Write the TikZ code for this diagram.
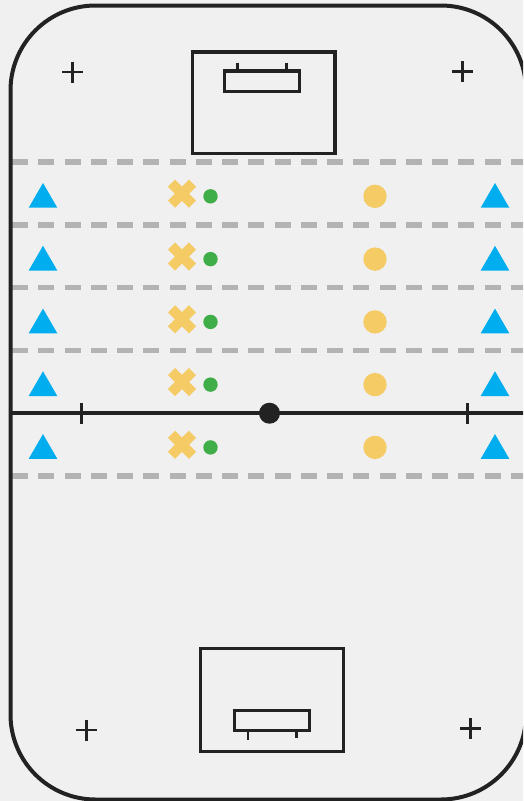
\documentclass[tikz,border=0pt]{standalone}
\definecolor{bgc}{HTML}{F0F0F0}
\definecolor{ink}{HTML}{222222}
\definecolor{dashc}{HTML}{B3B3B3}
\definecolor{blueT}{HTML}{00AEEF}
\definecolor{yell}{HTML}{F5CB66}
\definecolor{greenD}{HTML}{3FAE49}
\tikzset{
 x=1pt,y=-1pt,
 rink/.style={draw=ink,line width=4pt},
 boxline/.style={draw=ink,line width=3.2pt},
 lowbox/.style={draw=ink,line width=3pt},
 thin tick/.style={draw=ink,line width=2.8pt},
 lane/.style={draw=dashc,line width=5.5pt,dash pattern=on 16pt off 10.25pt},
 centre/.style={draw=ink,line width=4.5pt},
 tri/.style={fill=blueT},
 crossmark/.style={draw=yell,line width=10pt},
}
\begin{document}
\begin{tikzpicture}
\useasboundingbox (0,0) rectangle (523,801);
\clip (0,0) rectangle (523,801);
\fill[bgc] (0,0) rectangle (523,801);
% lanes
\foreach \y in {162,225,287.7,350.6,476}
  \draw[lane] (12,\y) -- (530,\y);
% centre line
\draw[centre] (10.5,413.2) -- (530,413.2);
\draw[thin tick] (81.5,403) -- (81.5,423.5);
\draw[thin tick] (467.5,403) -- (467.5,423.5);
\fill[ink] (269.5,413.2) circle (10.5);
% rink
\draw[rink] (526,90.5) arc[start angle=0,end angle=90,x radius=85,y radius=-85]
  -- (95.5,5.5) arc[start angle=90,end angle=180,x radius=85,y radius=-85]
  -- (10.5,714.5) arc[start angle=180,end angle=270,x radius=85,y radius=-85]
  -- (441,799.5) arc[start angle=270,end angle=360,x radius=85,y radius=-85] -- cycle;
% goals
\draw[boxline] (192.5,52) rectangle (335,153.5);
\draw[boxline] (224.5,71) rectangle (299.5,91.5);
\draw[thin tick] (237.5,62.5) -- (237.5,70);
\draw[thin tick] (286.5,62.5) -- (286.5,70);
\draw[lowbox] (200,648.5) rectangle (343,751);
\draw[lowbox] (234,710.5) rectangle (309,730.5);
\draw[thin tick] (248,732) -- (248,739.5);
\draw[thin tick] (296.5,732) -- (296.5,738);
% plus marks
\foreach \px/\py in {72.5/72,462.3/71.5,86.5/730,470.7/728.5}{
  \draw[thin tick] (\px-10.5,\py) -- (\px+10.5,\py);
  \draw[thin tick] (\px,\py-10.5) -- (\px,\py+10.5);
}
% rows
\foreach \r in {196.3,259.1,321.9,384.6,447.4}{
  \fill[tri] (43,\r-13.3) -- (57.3,\r+11.4) -- (28.7,\r+11.4) -- cycle;
  \fill[tri] (495,\r-13.3) -- (509.3,\r+11.4) -- (480.7,\r+11.4) -- cycle;
  \draw[crossmark] (171.5,\r-13.1) -- (192.5,\r+7.9);
  \draw[crossmark] (192.5,\r-13.1) -- (171.5,\r+7.9);
  \fill[greenD] (210.5,\r) circle (7.2);
  \fill[yell] (375,\r) circle (11.7);
}
\end{tikzpicture}
\end{document}
